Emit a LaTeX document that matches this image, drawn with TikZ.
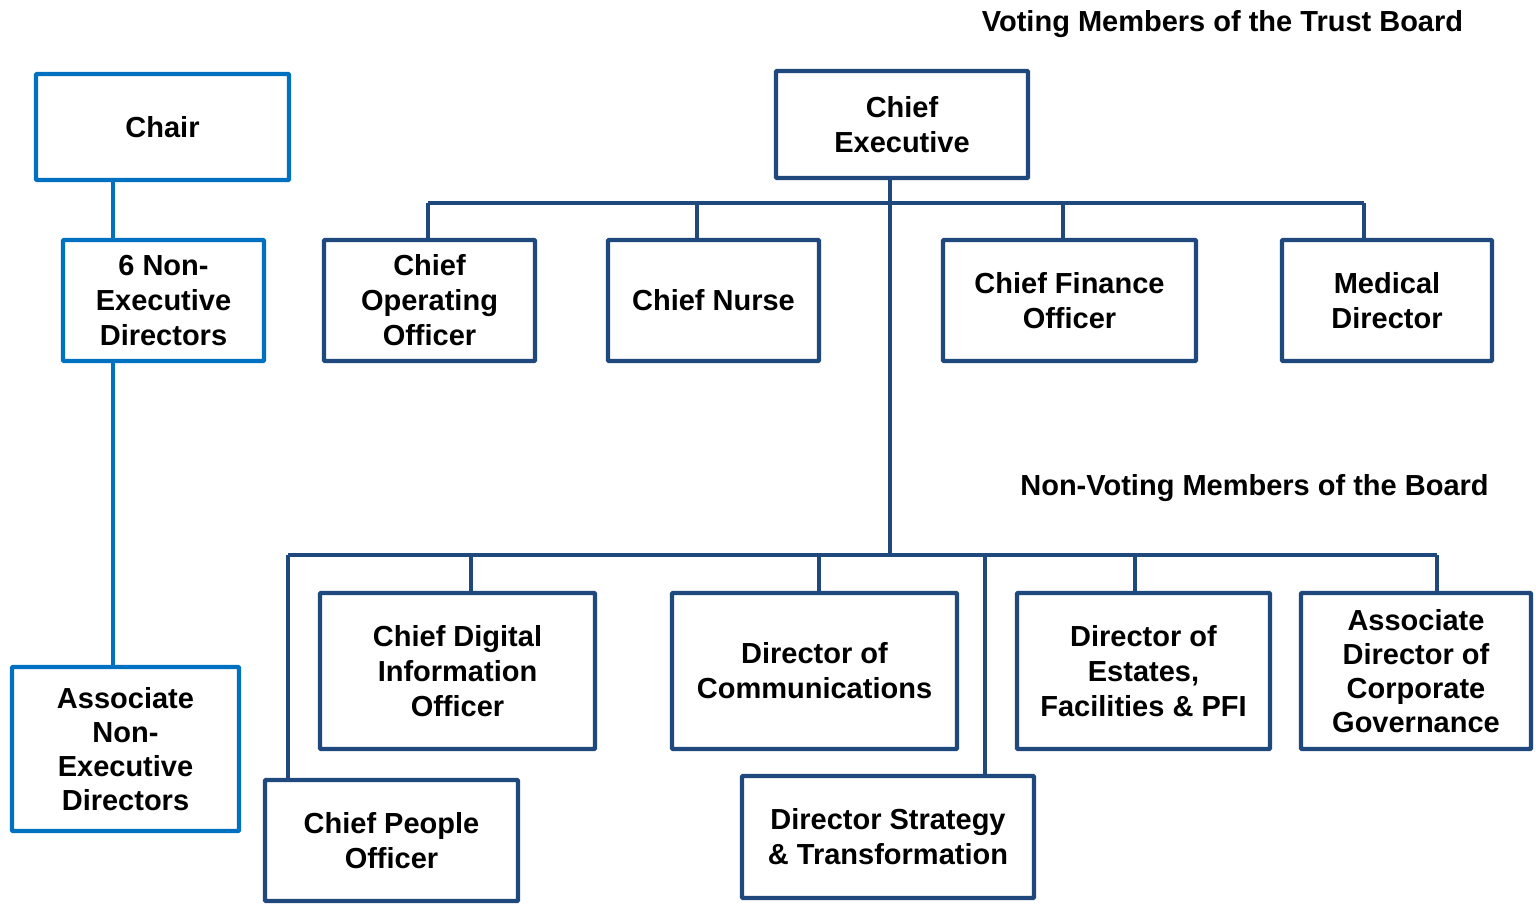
\documentclass[tikz,border=0pt]{standalone}
\usepackage{fontspec}
\setmainfont{Liberation Sans}
\definecolor{boardblue}{HTML}{1F497D}
\definecolor{chairblue}{HTML}{0070C0}

\begin{document}
\begin{tikzpicture}[x=0.5pt,y=-0.5pt,line width=2.2pt,
                    every node/.style={font=\fontsize{14.5}{17.5}\selectfont\bfseries,align=center},
                    exec box/.style={draw=boardblue,rectangle,rounded corners=0.5pt},
                    ned box/.style={draw=chairblue,rectangle,rounded corners=0.5pt}]
  \useasboundingbox (0,0) rectangle (1536,904);

  % chair side
  \node[ned box,minimum width=126.5pt,minimum height=53pt] (chair) at (162.5,127) {Chair};
  \node[ned box,minimum width=100.5pt,minimum height=60.5pt] (ned) at (163.5,300.5) {6 Non-\\Executive\\Directors};
  \node[ned box,minimum width=113.5pt,minimum height=82pt,font=\fontsize{14.5}{17}\selectfont\bfseries] (aned) at (125.5,749) {Associate\\Non-\\Executive\\Directors};

  % voting members
  \node (vtitle) at (1222.5,24) {Voting Members of the Trust Board};
  \node[exec box,minimum width=126pt,minimum height=53.5pt] (ce) at (902,124.5) {Chief\\Executive};
  \node[exec box,minimum width=105.5pt,minimum height=60.5pt] (coo) at (429.5,300.5) {Chief\\Operating\\Officer};
  \node[exec box,minimum width=105.5pt,minimum height=60.5pt] (nurse) at (713.5,300.5) {Chief Nurse};
  \node[exec box,minimum width=126.5pt,minimum height=60.5pt] (cfo) at (1069.5,300.5) {Chief Finance\\Officer};
  \node[exec box,minimum width=105pt,minimum height=60.5pt] (md) at (1387,300.5) {Medical\\Director};

  % non-voting members
  \node (nvtitle) at (1254.5,488) {Non-Voting Members of the Board};
  \node[exec box,minimum width=137.5pt,minimum height=78pt] (cdio) at (457.5,671) {Chief Digital\\Information\\Officer};
  \node[exec box,minimum width=142.5pt,minimum height=78pt] (comms) at (814.5,671) {Director of\\Communications};
  \node[exec box,minimum width=126.5pt,minimum height=78pt] (estates) at (1143.5,671) {Director of\\Estates,\\Facilities \& PFI};
  \node[exec box,minimum width=115pt,minimum height=78pt,font=\fontsize{14.5}{17}\selectfont\bfseries] (adcg) at (1416,671) {Associate\\Director of\\Corporate\\Governance};
  \node[exec box,minimum width=126.5pt,minimum height=60.5pt] (cpo) at (391.5,840.5) {Chief People\\Officer};
  \node[exec box,minimum width=146pt,minimum height=61pt] (dst) at (888,837) {Director Strategy\\\& Transformation};

  % bus points
  \coordinate (cl) at (113,0);
  \coordinate (s1) at (428,203);
  \coordinate (s2) at (697,203);
  \coordinate (s3) at (1063,203);
  \coordinate (s4) at (1364,203);
  \coordinate (ceaxis) at (890,555);
  \coordinate (b0) at (288,555);
  \coordinate (b1) at (471,555);
  \coordinate (b2) at (819,555);
  \coordinate (b3) at (985,555);
  \coordinate (b4) at (1135,555);
  \coordinate (b5) at (1437,555);

  \draw[chairblue] (chair.south -| cl) -- (ned.north -| cl);
  \draw[chairblue] (ned.south -| cl) -- (aned.north -| cl);

  \draw[boardblue] (ce.south -| ceaxis) -- (ceaxis);
  \draw[boardblue] (s1) -- (s4);
  \foreach \s/\n in {s1/coo,s2/nurse,s3/cfo,s4/md}
    \draw[boardblue] (\s) -- (\s |- \n.north);
  \draw[boardblue] (b0) -- (b5);
  \foreach \b/\n in {b0/cpo,b1/cdio,b2/comms,b3/dst,b4/estates,b5/adcg}
    \draw[boardblue] (\b) -- (\b |- \n.north);
\end{tikzpicture}
\end{document}
